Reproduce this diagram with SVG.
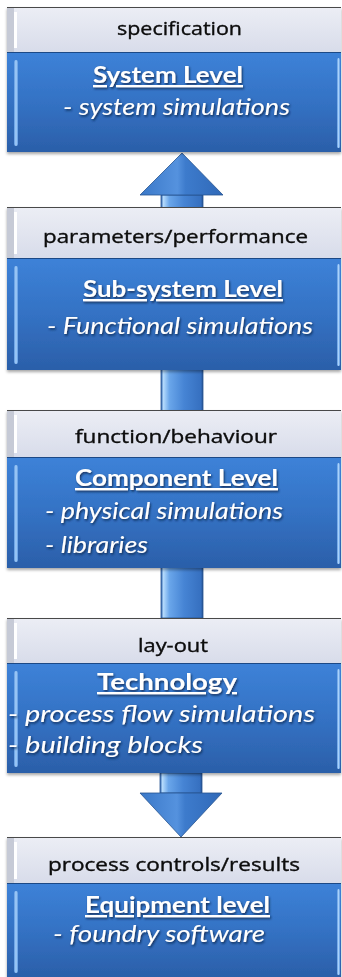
<svg xmlns="http://www.w3.org/2000/svg" width="342" height="977" viewBox="0 0 342 977">
  <defs>
    <linearGradient id="bandFill" x1="0" y1="0" x2="0" y2="1">
      <stop offset="0" stop-color="#eceef5"/>
      <stop offset="1" stop-color="#d8dcea"/>
    </linearGradient>
    <linearGradient id="panelFill" x1="0" y1="0" x2="0" y2="1">
      <stop offset="0" stop-color="#3d82d8"/>
      <stop offset="0.5" stop-color="#3472c4"/>
      <stop offset="1" stop-color="#2b5fa9"/>
    </linearGradient>
    <linearGradient id="edgeLight" x1="0" y1="0" x2="1" y2="0">
      <stop offset="0" stop-color="#5d98e0"/>
      <stop offset="0.5" stop-color="#a9d2fb"/>
      <stop offset="1" stop-color="#5d98e0"/>
    </linearGradient>
    <linearGradient id="shaftFill" x1="0" y1="0" x2="1" y2="0">
      <stop offset="0" stop-color="#2f63ad"/>
      <stop offset="0.06" stop-color="#b4dafc"/>
      <stop offset="0.2" stop-color="#6aa6ea"/>
      <stop offset="0.55" stop-color="#4684d4"/>
      <stop offset="0.95" stop-color="#3670c0"/>
      <stop offset="1" stop-color="#234f8f"/>
    </linearGradient>
    <linearGradient id="headFill" x1="0" y1="0" x2="1" y2="0">
      <stop offset="0" stop-color="#3a78c8"/>
      <stop offset="0.45" stop-color="#5592de"/>
      <stop offset="0.55" stop-color="#3d7bcc"/>
      <stop offset="1" stop-color="#3069b8"/>
    </linearGradient>
    <filter id="boxShadow" x="-5%" y="-5%" width="110%" height="115%">
      <feDropShadow dx="0" dy="2" stdDeviation="1.5" flood-color="#000" flood-opacity="0.35"/>
    </filter>
    <filter id="textShadow" x="-5%" y="-20%" width="110%" height="150%">
      <feDropShadow dx="1" dy="1.5" stdDeviation="0.8" flood-color="#0a1f40" flood-opacity="0.85"/>
    </filter>
  </defs>
  <style>
    .band { fill: url(#bandFill); }
    .bandTop { stroke: #4a4a4a; stroke-width: 1.2; }
    .panel { fill: url(#panelFill); }
    .panelLine { stroke: #1f4a86; stroke-width: 1; }
    .shadeL { fill: #c6cad6; }
    .hiL { fill: #ffffff; }
    .edge { fill: url(#edgeLight); }
    .lbl { font-family: "Open Sans", Lato, "Liberation Sans", sans-serif; font-size: 18.5px; font-weight: 500; fill: #0a0a0a; stroke: #0a0a0a; stroke-width: 0.35; }
    .ttl { font-family: Lato, "Open Sans", "Liberation Sans", sans-serif; font-size: 23px; font-weight: bold; fill: #fff; text-decoration: underline; filter: url(#textShadow); }
    .sub { font-family: Lato, "Open Sans", "Liberation Sans", sans-serif; font-size: 24px; font-style: italic; fill: #fff; filter: url(#textShadow); }
    .arrow { stroke: #27548f; stroke-width: 0.8; stroke-linejoin: round; }
  </style>

  <rect width="342" height="977" fill="#ffffff"/>

  <!-- connectors: long up-arrow from the technology box to the system level, short down-arrow to equipment -->
  <g id="connectors">
    <path class="arrow" d="M161,195 L203,195 L203,618 L161,618 Z" fill="url(#shaftFill)"/>
    <path class="arrow" d="M182,153 L223,195 L140,195 Z" fill="url(#headFill)"/>
    <path class="arrow" d="M160,773 L202,773 L202,793 L160,793 Z" fill="url(#shaftFill)"/>
    <path class="arrow" d="M140,793 L222,793 L181,837 Z" fill="url(#headFill)"/>
  </g>

  <!-- system level -->
  <g id="system-level" filter="url(#boxShadow)">
    <rect class="band" x="7" y="7" width="334" height="45"/>
    <rect class="shadeL" x="7" y="8" width="7" height="44"/>
    <rect class="hiL" x="14" y="12" width="3" height="36"/>
    <line class="bandTop" x1="7" y1="7.5" x2="341" y2="7.5"/>
    <rect class="panel" x="7" y="52" width="334" height="100"/>
    <line class="panelLine" x1="7" y1="52.5" x2="341" y2="52.5"/>
    <rect class="edge" x="14" y="60" width="4" height="86" rx="2"/>
    <rect class="edge" x="337" y="58" width="3" height="90" rx="1.5"/>
    <text class="lbl" x="117" y="35" textLength="125" lengthAdjust="spacingAndGlyphs">specification</text>
    <text class="ttl" x="93" y="83" textLength="150" lengthAdjust="spacingAndGlyphs">System Level</text>
    <text class="sub" x="63" y="115" textLength="227" lengthAdjust="spacingAndGlyphs">- system simulations</text>
  </g>

  <!-- sub-system level -->
  <g id="subsystem-level" filter="url(#boxShadow)">
    <rect class="band" x="7" y="207" width="334" height="51"/>
    <rect class="shadeL" x="7" y="208" width="7" height="50"/>
    <rect class="hiL" x="14" y="212" width="3" height="42"/>
    <line class="bandTop" x1="7" y1="207.5" x2="341" y2="207.5"/>
    <rect class="panel" x="7" y="258" width="334" height="112"/>
    <line class="panelLine" x1="7" y1="258.5" x2="341" y2="258.5"/>
    <rect class="edge" x="14" y="266" width="4" height="98" rx="2"/>
    <rect class="edge" x="337" y="264" width="3" height="102" rx="1.5"/>
    <text class="lbl" x="43" y="243" textLength="265" lengthAdjust="spacingAndGlyphs">parameters/performance</text>
    <text class="ttl" x="83" y="297" textLength="200" lengthAdjust="spacingAndGlyphs">Sub-system Level</text>
    <text class="sub" x="47" y="334" textLength="266" lengthAdjust="spacingAndGlyphs">- Functional simulations</text>
  </g>

  <!-- component level -->
  <g id="component-level" filter="url(#boxShadow)">
    <rect class="band" x="7" y="410" width="334" height="47"/>
    <rect class="shadeL" x="7" y="411" width="7" height="46"/>
    <rect class="hiL" x="14" y="415" width="3" height="38"/>
    <line class="bandTop" x1="7" y1="410.5" x2="341" y2="410.5"/>
    <rect class="panel" x="7" y="457" width="334" height="111"/>
    <line class="panelLine" x1="7" y1="457.5" x2="341" y2="457.5"/>
    <rect class="edge" x="14" y="465" width="4" height="97" rx="2"/>
    <rect class="edge" x="337" y="463" width="3" height="101" rx="1.5"/>
    <text class="lbl" x="75" y="443" textLength="202" lengthAdjust="spacingAndGlyphs">function/behaviour</text>
    <line x1="68" y1="489.5" x2="76" y2="489.5" stroke="#fff" stroke-width="1.5" filter="url(#textShadow)"/>
    <text class="ttl" x="75" y="486" textLength="203" lengthAdjust="spacingAndGlyphs">Component Level</text>
    <text class="sub" x="45" y="519" textLength="238" lengthAdjust="spacingAndGlyphs">- physical simulations</text>
    <text class="sub" x="45" y="553" textLength="103" lengthAdjust="spacingAndGlyphs">- libraries</text>
  </g>

  <!-- technology -->
  <g id="technology" filter="url(#boxShadow)">
    <rect class="band" x="7" y="618" width="334" height="45"/>
    <rect class="shadeL" x="7" y="619" width="7" height="44"/>
    <rect class="hiL" x="14" y="623" width="3" height="36"/>
    <line class="bandTop" x1="7" y1="618.5" x2="341" y2="618.5"/>
    <rect class="panel" x="7" y="663" width="334" height="110"/>
    <line class="panelLine" x1="7" y1="663.5" x2="341" y2="663.5"/>
    <rect class="edge" x="14" y="671" width="4" height="96" rx="2"/>
    <rect class="edge" x="337" y="669" width="3" height="100" rx="1.5"/>
    <text class="lbl" x="138" y="652" textLength="70" lengthAdjust="spacingAndGlyphs">lay-out</text>
    <line x1="88" y1="694.5" x2="97" y2="694.5" stroke="#fff" stroke-width="1.5" filter="url(#textShadow)"/>
    <text class="ttl" x="97" y="690" textLength="140" lengthAdjust="spacingAndGlyphs">Technology</text>
    <text class="sub" x="8" y="722" textLength="307" lengthAdjust="spacingAndGlyphs">- process flow simulations</text>
    <text class="sub" x="8" y="753" textLength="195" lengthAdjust="spacingAndGlyphs">- building blocks</text>
  </g>

  <!-- equipment level -->
  <g id="equipment-level" filter="url(#boxShadow)">
    <rect class="band" x="7" y="837" width="334" height="46"/>
    <rect class="shadeL" x="7" y="838" width="7" height="45"/>
    <rect class="hiL" x="14" y="842" width="3" height="37"/>
    <line class="bandTop" x1="7" y1="837.5" x2="341" y2="837.5"/>
    <rect class="panel" x="7" y="883" width="334" height="94"/>
    <line class="panelLine" x1="7" y1="883.5" x2="341" y2="883.5"/>
    <rect class="edge" x="14" y="891" width="4" height="82" rx="2"/>
    <rect class="edge" x="337" y="889" width="3" height="86" rx="1.5"/>
    <text class="lbl" x="48" y="871" textLength="252" lengthAdjust="spacingAndGlyphs">process controls/results</text>
    <text class="ttl" x="85" y="913" textLength="185" lengthAdjust="spacingAndGlyphs">Equipment level</text>
    <text class="sub" x="53" y="942" textLength="212" lengthAdjust="spacingAndGlyphs">- foundry software</text>
  </g>
</svg>
